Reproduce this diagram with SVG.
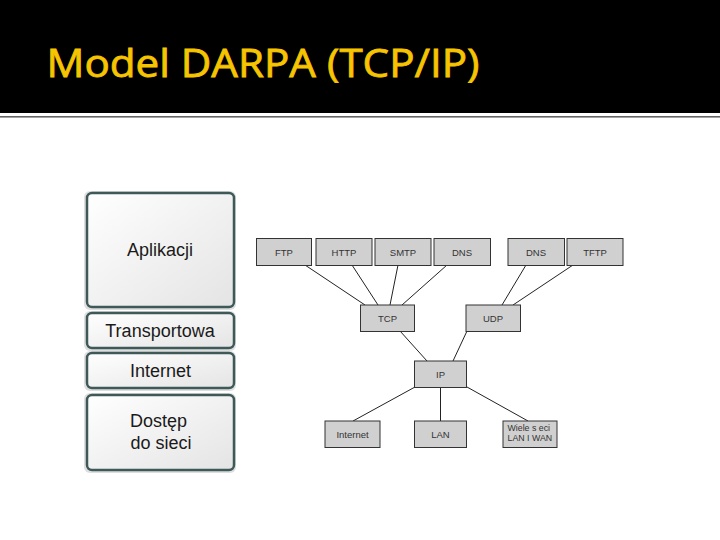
<svg xmlns="http://www.w3.org/2000/svg" width="720" height="540" viewBox="0 0 720 540">
  <style>
    .title { font-family: "Open Sans", "Liberation Sans", sans-serif; font-size: 39px; font-weight: 400; fill: #F6C400; stroke: #F6C400; stroke-width: 0.8; }
    .layer rect { fill: url(#layerFill); stroke: #3f5959; stroke-width: 2.5; }
    .layer .shadow { fill: #c8c8c8; stroke: none; opacity: 0.6; }
    .ltxt { font-family: "Liberation Sans", Arial, sans-serif; font-size: 18px; fill: #1a1a1a; text-anchor: middle; }
    .proto rect { fill: #d0d0d0; stroke: #333; stroke-width: 1; }
    .ptxt { font-family: "Liberation Sans", Arial, sans-serif; font-size: 9.5px; fill: #333; text-anchor: middle; }
    .small { font-size: 8.8px; text-anchor: start; }
    .conn line { stroke: #222; stroke-width: 1; }
  </style>
  <defs>
    <linearGradient id="layerFill" x1="0" y1="0" x2="1" y2="1">
      <stop offset="0" stop-color="#ffffff"/>
      <stop offset="1" stop-color="#e4e4e4"/>
    </linearGradient>
  </defs>

  <rect x="0" y="0" width="720" height="113" fill="#000"/>
  <rect x="0" y="116" width="720" height="1.6" fill="#666"/>
  <text class="title" x="46.5" y="77" textLength="433" lengthAdjust="spacingAndGlyphs">Model DARPA (TCP/IP)</text>

  <g id="layer-aplikacji" class="layer">
    <rect class="shadow" x="84" y="191" width="152" height="119" rx="6"/>
    <rect x="87" y="193" width="147" height="114" rx="5"/>
    <text class="ltxt" x="160" y="256">Aplikacji</text>
  </g>
  <g id="layer-transportowa" class="layer">
    <rect class="shadow" x="84" y="311" width="152" height="40" rx="6"/>
    <rect x="87" y="313" width="147" height="35" rx="5"/>
    <text class="ltxt" x="160" y="337">Transportowa</text>
  </g>
  <g id="layer-internet" class="layer">
    <rect class="shadow" x="84" y="351" width="152" height="40" rx="6"/>
    <rect x="87" y="353" width="147" height="35" rx="5"/>
    <text class="ltxt" x="160.5" y="377">Internet</text>
  </g>
  <g id="layer-dostep" class="layer">
    <rect class="shadow" x="84" y="393" width="152" height="80" rx="6"/>
    <rect x="87" y="395" width="147" height="75" rx="5"/>
    <text class="ltxt" x="158.5" y="427">Dostęp</text>
    <text class="ltxt" x="161" y="449">do sieci</text>
  </g>

  <g id="connectors" class="conn">
    <line x1="305" y1="265" x2="365" y2="305"/>
    <line x1="352" y1="265" x2="378" y2="305"/>
    <line x1="398" y1="265" x2="390" y2="305"/>
    <line x1="447" y1="265" x2="402" y2="305"/>
    <line x1="526" y1="265" x2="502" y2="305"/>
    <line x1="573" y1="265" x2="513" y2="305"/>
    <line x1="400" y1="331" x2="427" y2="361"/>
    <line x1="467" y1="331" x2="453" y2="361"/>
    <line x1="415" y1="387" x2="353" y2="421"/>
    <line x1="440.5" y1="387" x2="440.5" y2="421"/>
    <line x1="467" y1="387" x2="528" y2="421"/>
  </g>

  <g id="ftp" class="proto"><rect x="256.5" y="238.5" width="55" height="27"/><text class="ptxt" x="284" y="255.5">FTP</text></g>
  <g id="http" class="proto"><rect x="316" y="238.5" width="56" height="27"/><text class="ptxt" x="344" y="255.5">HTTP</text></g>
  <g id="smtp" class="proto"><rect x="375" y="238.5" width="56" height="27"/><text class="ptxt" x="403" y="255.5">SMTP</text></g>
  <g id="dns1" class="proto"><rect x="434" y="238.5" width="56.5" height="27"/><text class="ptxt" x="462" y="255.5">DNS</text></g>
  <g id="dns2" class="proto"><rect x="508" y="238.5" width="56.5" height="27"/><text class="ptxt" x="536" y="255.5">DNS</text></g>
  <g id="tftp" class="proto"><rect x="567" y="238.5" width="56" height="27"/><text class="ptxt" x="595" y="255.5">TFTP</text></g>

  <g id="tcp" class="proto"><rect x="360.5" y="305" width="54" height="26.5"/><text class="ptxt" x="387.5" y="322">TCP</text></g>
  <g id="udp" class="proto"><rect x="466" y="305" width="54.5" height="26.5"/><text class="ptxt" x="493" y="322">UDP</text></g>

  <g id="ip" class="proto"><rect x="414.5" y="361" width="52" height="26.5"/><text class="ptxt" x="440.5" y="378">IP</text></g>

  <g id="internet" class="proto"><rect x="325" y="421" width="55" height="26.5"/><text class="ptxt" x="352.5" y="438">Internet</text></g>
  <g id="lan" class="proto"><rect x="414.5" y="421" width="52" height="26.5"/><text class="ptxt" x="440.5" y="438">LAN</text></g>
  <g id="wiele" class="proto"><rect x="503" y="421" width="54" height="26.5"/>
    <text class="ptxt small" x="507.5" y="431">Wiele s eci</text>
    <text class="ptxt small" x="507.5" y="441">LAN I WAN</text>
  </g>
</svg>
